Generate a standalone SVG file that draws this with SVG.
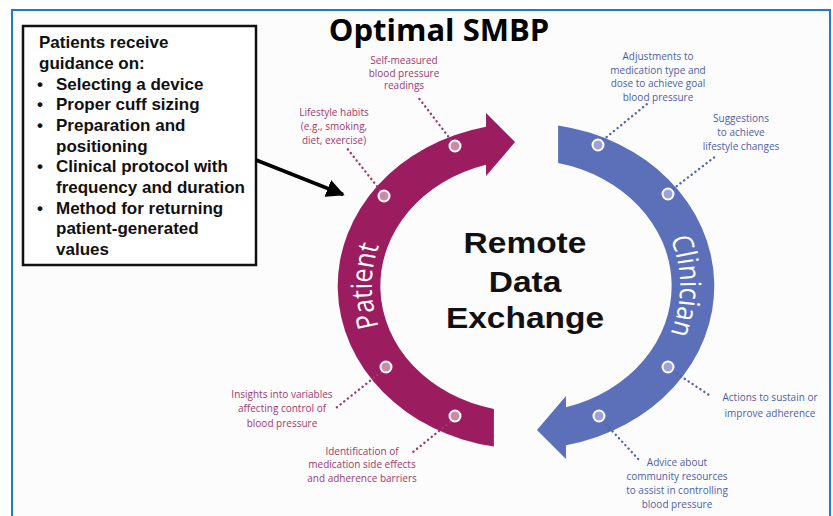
<svg xmlns="http://www.w3.org/2000/svg" xmlns:xlink="http://www.w3.org/1999/xlink" width="833" height="516" viewBox="0 0 833 516">
<style>
.box{font-family:"Liberation Sans",Arial,sans-serif;font-weight:bold;font-size:17px;fill:#111}
.lbl{font-family:"Open Sans","Noto Sans",sans-serif;font-size:10px;text-anchor:middle}
.pk{fill:#a3386f}
.bl{fill:#4f5ea8}
.dotm{fill:#c98ba6;stroke:#fff;stroke-width:2}
.dotb{fill:#9ea2d6;stroke:#fff;stroke-width:2}
.lnm{stroke:#a3386f;stroke-width:2.4;stroke-linecap:round;stroke-dasharray:0.1 4.6;fill:none}
.lnb{stroke:#5262ad;stroke-width:2.4;stroke-linecap:round;stroke-dasharray:0.1 4.6;fill:none}
.center{font-family:"Liberation Sans",Arial,sans-serif;font-weight:bold;font-size:29px;text-anchor:middle;fill:#111}
.arcText{font-family:"Open Sans","Noto Sans",sans-serif;font-size:25px;fill:#fff}
</style>
<defs>
<path id="arrowShape" d="M -27.8,160.6 A 163 163 0 0 1 -34.6,-159.3 L -34.6,-173 L -9.5,-144 L -34.6,-110 L -34.6,-121.2 A 126 126 0 0 0 -27.8,122.9 Z"/>
<path id="pathLeft" d="M -66.8,115.6 A 133.5 133.5 0 0 1 -66.8,-115.6"/>
<path id="pathRight" d="M 66.8,-115.6 A 133.5 133.5 0 0 1 66.8,115.6"/>
<marker id="blackHead" viewBox="0 0 10 10" refX="9" refY="5" markerWidth="5.2" markerHeight="5.2" orient="auto" markerUnits="strokeWidth">
<path d="M0,0 L10,5 L0,10 Z" fill="#000"/>
</marker>
</defs>
<rect x="0" y="0" width="833" height="516" fill="#fff"/>
<rect id="frame" x="12" y="10" width="818" height="530" fill="#fcfcfc" stroke="#1f78d1" stroke-width="2"/>

<g id="title"><text x="439" y="41" style="font-family:'Open Sans','Noto Sans',sans-serif;font-weight:bold;font-size:31px;text-anchor:middle;fill:#000">Optimal SMBP</text></g>

<g id="guidance-box">
<rect x="23" y="26" width="233" height="239" fill="#fff" stroke="#111" stroke-width="2.5"/>
<text class="box" x="39" y="48.3">Patients receive</text>
<text class="box" x="39" y="69">guidance on:</text>
<text class="box" x="37" y="89.7">•</text><text class="box" x="56" y="89.7">Selecting a device</text>
<text class="box" x="37" y="110.3">•</text><text class="box" x="56" y="110.3">Proper cuff sizing</text>
<text class="box" x="37" y="131">•</text><text class="box" x="56" y="131">Preparation and</text>
<text class="box" x="56" y="151.7">positioning</text>
<text class="box" x="37" y="172.3">•</text><text class="box" x="56" y="172.3">Clinical protocol with</text>
<text class="box" x="56" y="193">frequency and duration</text>
<text class="box" x="37" y="213.7">•</text><text class="box" x="56" y="213.7">Method for returning</text>
<text class="box" x="56" y="234.3">patient-generated</text>
<text class="box" x="56" y="255">values</text>
</g>

<g id="patient-arc" transform="translate(526,286) scale(1.155,1)">
<use xlink:href="#arrowShape" href="#arrowShape" fill="#9c1c60"/>
<text class="arcText"><textPath xlink:href="#pathLeft" href="#pathLeft" startOffset="50%" text-anchor="middle">Patient</textPath></text>
</g>
<g id="clinician-arc" transform="translate(526,286) scale(1.155,1)">
<use xlink:href="#arrowShape" href="#arrowShape" fill="#5c6fb9" transform="rotate(180)"/>
<text class="arcText"><textPath xlink:href="#pathRight" href="#pathRight" startOffset="50%" text-anchor="middle">Clinician</textPath></text>
</g>

<g id="center-label" transform="translate(525,0) scale(1.155,1)">
<text class="center" x="0" y="253">Remote</text>
<text class="center" x="0" y="292.5">Data</text>
<text class="center" x="0" y="328.5">Exchange</text>
</g>

<g id="connectors">
<line x1="256" y1="160" x2="343" y2="194.5" stroke="#000" stroke-width="3.5" marker-end="url(#blackHead)"/>
<line class="lnm" x1="380" y1="190" x2="346" y2="147"/>
<line class="lnm" x1="451" y1="140" x2="418" y2="97"/>
<line class="lnm" x1="381" y1="372" x2="336" y2="408"/>
<line class="lnm" x1="450" y1="422" x2="413" y2="452"/>
<line class="lnb" x1="603" y1="140" x2="647" y2="104"/>
<line class="lnb" x1="673" y1="189" x2="716" y2="156"/>
<line class="lnb" x1="673" y1="371" x2="712" y2="397"/>
<line class="lnb" x1="603" y1="421" x2="640" y2="461"/>
</g>

<g id="node-lifestyle"><circle class="dotm" cx="384" cy="196" r="5.5"/>
<text class="lbl pk" x="334" y="116">Lifestyle habits</text><text class="lbl pk" x="334" y="130">(e.g., smoking,</text><text class="lbl pk" x="334" y="143.5">diet, exercise)</text></g>
<g id="node-selfmeasured"><circle class="dotm" cx="455" cy="146" r="5.5"/>
<text class="lbl pk" x="404" y="64">Self-measured</text><text class="lbl pk" x="404" y="76.5">blood pressure</text><text class="lbl pk" x="404" y="89">readings</text></g>
<g id="node-insights"><circle class="dotm" cx="386" cy="367" r="5.5"/>
<text class="lbl pk" x="282" y="397.5">Insights into variables</text><text class="lbl pk" x="282" y="412">affecting control of</text><text class="lbl pk" x="282" y="426.5">blood pressure</text></g>
<g id="node-identification"><circle class="dotm" cx="455" cy="416" r="5.5"/>
<text class="lbl pk" x="362" y="454.5">Identification of</text><text class="lbl pk" x="362" y="468">medication side effects</text><text class="lbl pk" x="362" y="481.5">and adherence barriers</text></g>
<g id="node-adjustments"><circle class="dotb" cx="598" cy="145" r="5.5"/>
<text class="lbl bl" x="658" y="59.5">Adjustments to</text><text class="lbl bl" x="658" y="73.5">medication type and</text><text class="lbl bl" x="658" y="87">dose to achieve goal</text><text class="lbl bl" x="658" y="101">blood pressure</text></g>
<g id="node-suggestions"><circle class="dotb" cx="668" cy="194" r="5.5"/>
<text class="lbl bl" x="741" y="121.5">Suggestions</text><text class="lbl bl" x="741" y="135.5">to achieve</text><text class="lbl bl" x="741" y="149.5">lifestyle changes</text></g>
<g id="node-actions"><circle class="dotb" cx="668" cy="367" r="5.5"/>
<text class="lbl bl" x="770" y="400.5">Actions to sustain or</text><text class="lbl bl" x="770" y="416.5">improve adherence</text></g>
<g id="node-advice"><circle class="dotb" cx="599" cy="416" r="5.5"/>
<text class="lbl bl" x="677" y="465.5">Advice about</text><text class="lbl bl" x="677" y="480">community resources</text><text class="lbl bl" x="677" y="494">to assist in controlling</text><text class="lbl bl" x="677" y="507.5">blood pressure</text></g>
</svg>
